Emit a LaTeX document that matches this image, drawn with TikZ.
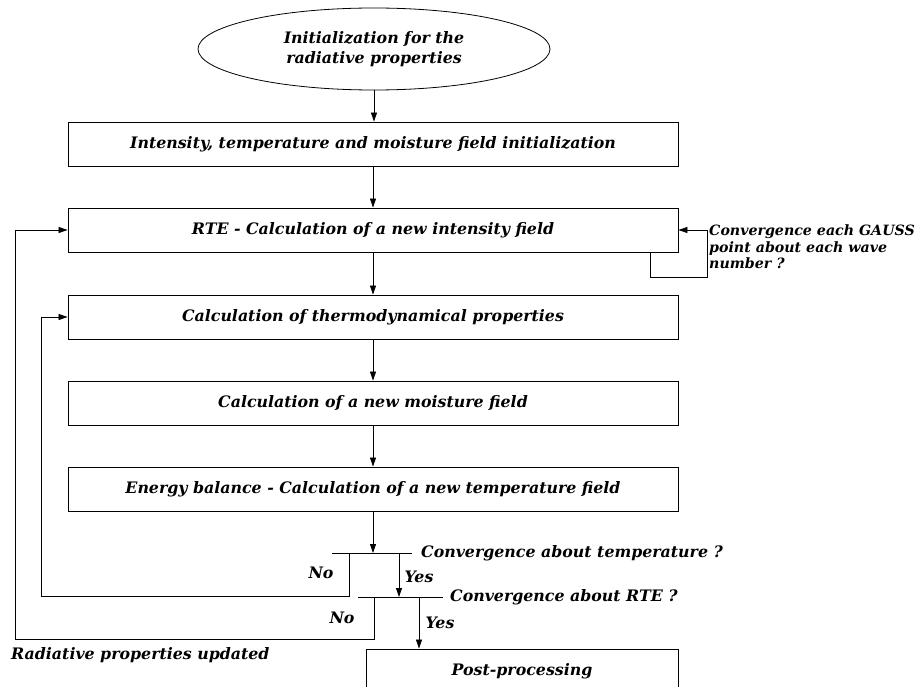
\documentclass[tikz,border=0pt]{standalone}
\usepackage{fontspec}
\setmainfont{DejaVu Serif}
\usetikzlibrary{arrows.meta,shapes.geometric}
\newcommand{\lbl}{\fontsize{15.8}{20}\selectfont\bfseries\itshape}
\newcommand{\lblnarrow}{\fontsize{14.2}{16.5}\selectfont\bfseries\itshape}
\tikzset{
  box/.style={draw, line width=0.9pt, minimum width=610pt, minimum height=44pt, inner sep=0pt, font=\lbl},
  flow/.style={-{Triangle[length=9pt,width=6pt]}, line width=0.8pt},
  txt/.style={font=\lbl, inner sep=0pt},
}
\begin{document}
\begin{tikzpicture}[x=1pt,y=-1pt]
\useasboundingbox (0,0) rectangle (922,687);
% main chain
\node[ellipse, draw, line width=0.8pt, minimum width=352pt, minimum height=82pt, align=center, font=\lbl] (init) at (374,49) {Initialization for the\\radiative properties};
\node[box] (fld) at (373,144) {Intensity, temperature and moisture field initialization};
\node[box] (rte) at (373,230) {RTE - Calculation of a new intensity field};
\node[box] (thermo) at (373,317) {Calculation of thermodynamical properties};
\node[box] (moist) at (373,403) {Calculation of a new moisture field};
\node[box] (energy) at (373,489) {Energy balance - Calculation of a new temperature field};
\node[draw, line width=0.9pt, minimum width=312pt, minimum height=44pt, inner sep=0pt, font=\lbl] (post) at (522,671) {Post-processing};
\draw[flow] (init.south) -- (init.south |- fld.north);
\draw[flow] (fld) -- (rte);
\draw[flow] (rte) -- (thermo);
\draw[flow] (thermo) -- (moist);
\draw[flow] (moist) -- (energy);
% GAUSS loop
\coordinate (gr) at (707,277);
\draw[flow] ([xshift=-28pt]rte.south east) |- (gr) |- (rte.east);
\node[txt, anchor=north west, align=left, font=\lblnarrow] (gauss) at (709,225) {Convergence each GAUSS\\point about each wave\\number ?};
% tests
\coordinate (t1a) at (332,553);
\coordinate (t1b) at (412,553);
\coordinate (t2a) at (358,597);
\coordinate (t2b) at (443,597);
\draw[line width=0.8pt] (t1a) -- (t1b);
\draw[line width=0.8pt] (t2a) -- (t2b);
\node[txt, anchor=west] (ctemp) at (421,553) {Convergence about temperature ?};
\node[txt, anchor=west] (crte) at (450,597) {Convergence about RTE ?};
\draw[flow] (energy.south) -- (energy.south |- t1a);
\coordinate (n1) at (349,553);
\coordinate (l1) at (41,596);
\draw[flow] (n1) |- (l1) |- (thermo.west);
\coordinate (y1) at (399,553);
\draw[flow] (y1) -- (y1 |- t2a);
\coordinate (n2) at (374,597);
\coordinate (l2) at (15,639);
\draw[flow] (n2) |- (l2) |- (rte.west);
\coordinate (y2) at (419,597);
\draw[flow] (y2) -- (y2 |- post.north);
\node[txt] (no1) at (321,573) {No};
\node[txt] (yes1) at (419,577) {Yes};
\node[txt] (no2) at (342,618) {No};
\node[txt] (yes2) at (440,623) {Yes};
\node[txt, anchor=west] (upd) at (11,655) {Radiative properties updated};
\end{tikzpicture}
\end{document}
